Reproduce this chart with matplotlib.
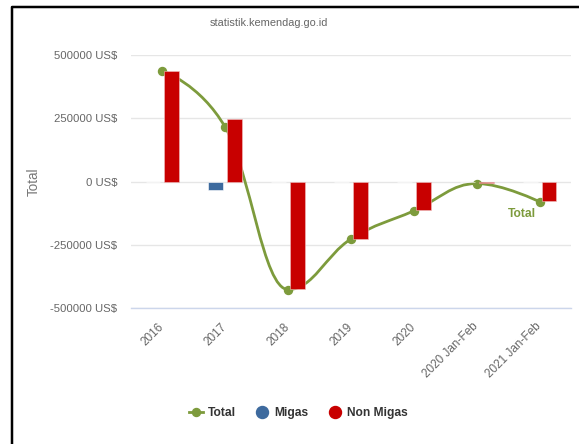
import matplotlib
matplotlib.use("Agg")
import matplotlib.pyplot as plt
import numpy as np
from matplotlib.path import Path
from matplotlib.patches import PathPatch
from matplotlib.lines import Line2D

categories = ["2016", "2017", "2018", "2019", "2020", "2020 Jan-Feb", "2021 Jan-Feb"]
migas = [0, -35000, -3000, -1000, -3000, -1000, -1000]
non_migas = [436000, 249000, -424000, -226000, -113000, -7000, -79000]
total = [437000, 214000, -427000, -227000, -116000, -8000, -80000]
yticks = [-500000, -250000, 0, 250000, 500000]

W, H = 579, 444
fig = plt.figure(figsize=(W / 100, H / 100), dpi=100)
plt.rcParams['font.family'] = ['Liberation Sans', 'DejaVu Sans']

def px(v):
    return v * 0.72

ax = fig.add_axes([131 / W, 1 - 308 / H, (571 - 131) / W, (308 - 55) / H])

x = np.arange(len(categories))
green = "#7d9b3c"
blue = "#3d6a9e"
red = "#c80000"

ax.bar(x - 0.15, migas, width=0.235, color=blue, edgecolor="white", linewidth=0.4, zorder=3)
ax.bar(x + 0.15, non_migas, width=0.235, color=red, edgecolor="#f0c0c0", linewidth=0.4, zorder=3)

# Highcharts-style spline
def spline_path(xs, ys, smoothing=1.5):
    n = len(xs)
    denom = smoothing + 1
    lc = [None] * n
    rc = [None] * n
    for i in range(n):
        px_, py_ = xs[i], ys[i]
        if i == 0 or i == n - 1:
            lc[i] = (px_, py_)
            rc[i] = (px_, py_)
            continue
        lx, ly = xs[i - 1], ys[i - 1]
        nx, ny = xs[i + 1], ys[i + 1]
        lcx = (smoothing * px_ + lx) / denom
        lcy = (smoothing * py_ + ly) / denom
        rcx = (smoothing * px_ + nx) / denom
        rcy = (smoothing * py_ + ny) / denom
        if rcx != lcx:
            corr = ((rcy - lcy) * (rcx - px_)) / (rcx - lcx) + py_ - rcy
            lcy += corr
            rcy += corr
        if lcy > ly and lcy > py_:
            lcy = max(ly, py_)
            rcy = 2 * py_ - lcy
        elif lcy < ly and lcy < py_:
            lcy = min(ly, py_)
            rcy = 2 * py_ - lcy
        if rcy > ny and rcy > py_:
            rcy = max(ny, py_)
            lcy = 2 * py_ - rcy
        elif rcy < ny and rcy < py_:
            rcy = min(ny, py_)
            lcy = 2 * py_ - rcy
        lc[i] = (lcx, lcy)
        rc[i] = (rcx, rcy)
    verts = [(xs[0], ys[0])]
    codes = [Path.MOVETO]
    for i in range(1, n):
        verts += [rc[i - 1], lc[i], (xs[i], ys[i])]
        codes += [Path.CURVE4] * 3
    return Path(verts, codes)

path = spline_path(list(x.astype(float)), [float(v) for v in total])
ax.add_patch(PathPatch(path, facecolor="none", edgecolor=green, linewidth=2, zorder=2))
ax.plot(x, total, linestyle="none", marker="o", markersize=px(8), color=green, zorder=2)

ax.annotate("Total", xy=(x[-1], total[-1]), xytext=(px(-18), px(-12)),
            textcoords="offset points", ha="center", va="center",
            fontsize=px(12), fontweight="bold", color=green, zorder=5)

ax.set_xlim(-0.5, len(categories) - 0.5)
ax.set_ylim(-500000, 500000)
ax.set_yticks(yticks)
ax.set_yticklabels([f"{v} US$" for v in yticks])
ax.yaxis.grid(True, color="#e6e6e6", linewidth=1)
ax.set_axisbelow(True)
for s in ["top", "right", "left"]:
    ax.spines[s].set_visible(False)
ax.spines["bottom"].set_color("#ccd6eb")
ax.spines["bottom"].set_linewidth(1)
ax.tick_params(axis="y", length=0, pad=px(14), labelsize=px(11.4), labelcolor="#666666")
ax.set_xticks(x)
ax.set_xticklabels(categories)
ax.tick_params(axis="x", length=0, pad=px(17), labelsize=px(11.8), labelcolor="#666666")
for lab in ax.get_xticklabels():
    lab.set_rotation(45)
    lab.set_ha("right")
    lab.set_va("center")
    lab.set_rotation_mode("anchor")

ax.set_ylabel("Total", fontsize=px(13.5), color="#777777", labelpad=0)
ax.yaxis.set_label_coords((41 - 131) / (571 - 131), 0.5)

fig.text(268.5 / W, 1 - 23 / H, "statistik.kemendag.go.id", ha="center", va="center",
         fontsize=px(11), color="#666666")

handles = [
    Line2D([0], [0], color=green, linewidth=2, marker="o", markersize=px(8)),
    Line2D([0], [0], color=blue, linestyle="none", marker="o", markersize=px(12)),
    Line2D([0], [0], color=red, linestyle="none", marker="o", markersize=px(12)),
]
leg = fig.legend(handles, ["Total", "Migas", "Non Migas"], loc="center",
                 bbox_to_anchor=(298 / W, 1 - 413 / H), ncol=3, frameon=False,
                 prop={"size": px(12), "weight": "bold"}, handlelength=1.2,
                 handletextpad=0.4, columnspacing=1.6)
for t in leg.get_texts():
    t.set_color("#333333")

# screenshot frame
fig.add_artist(Line2D([12 / W, 12 / W, 1.0], [0.0, 1 - 7 / H, 1 - 7 / H],
                      transform=fig.transFigure, color="black", linewidth=px(2.5)))

fig.savefig("out.png", dpi=100, facecolor="white")
